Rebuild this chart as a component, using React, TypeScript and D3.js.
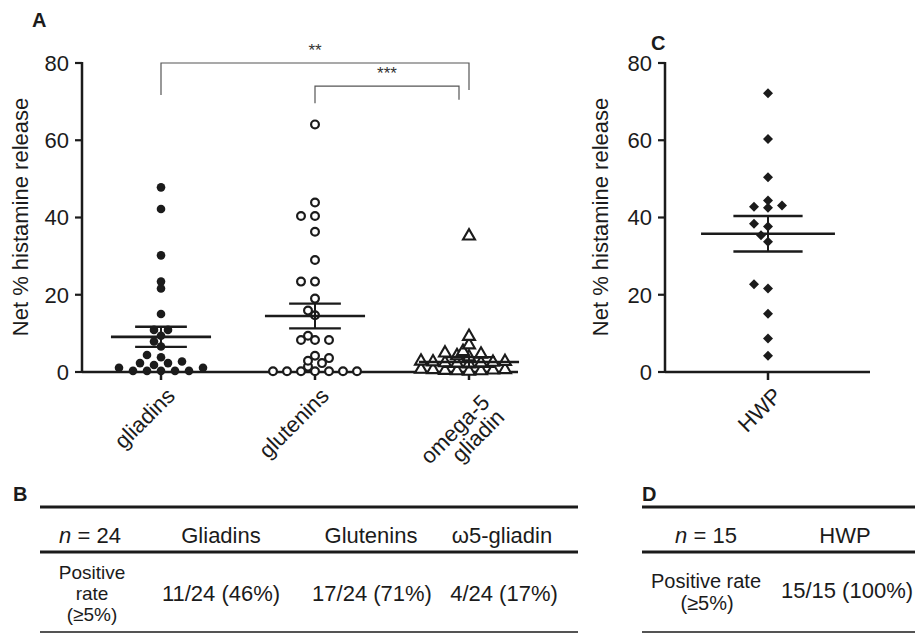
import React from "react";
import * as d3 from "d3";

// values (net % histamine release)
const categories = ["gliadins", "glutenins", "omega-5 gliadin"];
const categoryLines = [["gliadins"], ["glutenins"], ["omega-5", "gliadin"]];

const gliadins = [47.8, 42.2, 30.2, 23.4, 21.6, 15.0, 10.9, 10.9, 9.4, 7.9, 6.6, 4.4, 3.8, 2.7, 2.3, 2.3, 1.8, 1.1, 1.1, 0.3, 0.3, 0.3, 0.3, 0.3];
const glutenins = [64.1, 43.9, 40.4, 40.4, 36.3, 29.0, 23.4, 23.4, 19.0, 15.9, 14.7, 9.4, 8.3, 8.3, 8.3, 4.2, 3.6, 2.9, 2.3, 1.4, 0.2, 0.2, 0.2, 0.2, 0.2, 0.2, 0.2];
const omega5 = [35.2, 9.2, 7.0, 5.3, 4.9, 4.6, 4.2, 3.9, 2.8, 2.7, 2.6, 2.5, 2.4, 2.3, 2.2, 2.1, 0.7, 0.6, 0.6, 0.5, 0.4, 0.3, 0.3, 0.2];
const hwp = [72.2, 60.3, 50.4, 44.4, 43.1, 42.8, 42.5, 38.4, 37.7, 35.4, 33.7, 22.7, 21.6, 15.1, 8.7, 4.2];

const groupMeans = [9.1, 14.5, 2.6];
const groupSem = [2.6, 3.2, 1.25];
const hwpMean = [35.8];
const hwpSem = [4.6];

const yTicks = [0, 20, 40, 60, 80];

const brackets = [
  { from: 0, to: 2, level: 80, leftEnd: 71.7, rightEnd: 73, label: "**" },
  { from: 1, to: 2, level: 74, leftEnd: 69.6, rightEnd: 70.5, label: "***" },
];

const tableBHead = ["Gliadins", "Glutenins", "ω5-gliadin"];
const tableBRow = ["11/24 (46%)", "17/24 (71%)", "4/24 (17%)"];
const tableDHead = ["HWP"];
const tableDRow = ["15/15 (100%)"];

const FONT = "'Liberation Sans', Arial, Helvetica, sans-serif";
const INK = "#1b1b1b";

// simple beeswarm: bottom-up, each point on the half-step lattice closest to the centre
function swarm(values: number[], y: (v: number) => number, step: number, dMin: number) {
  const placed: { v: number; py: number; dx: number }[] = [];
  const sorted = [...values].sort((a, b) => a - b);
  const cand: number[] = [0];
  for (let k = 1; k < 30; k++) cand.push(-k * step / 2, k * step / 2);
  for (const v of sorted) {
    const py = y(v);
    let dx = 0;
    for (const c of cand) {
      const hit = placed.some((p) => {
        const a = (p.dx - c) / step, b = (p.py - py) / dMin;
        return a * a + b * b < 0.6;
      });
      if (!hit) { dx = c; break; }
    }
    placed.push({ v, py, dx });
  }
  return placed;
}

const triangle = d3.symbol(d3.symbolTriangle, 62)();
const square = d3.symbol(d3.symbolSquare, 50)();

export default function App() {
  const y = d3.scaleLinear().domain([0, 80]).range([372, 63]);

  // panel A
  const axA = 82;
  const xA = d3.scalePoint().domain(categories).range([84, 546]).padding(0.5);
  const stepA = xA.step();
  const groups = [gliadins, glutenins, omega5];
  const swarms = groups.map((g, i) => swarm(g, y, i === 2 ? 12 : 14, i === 0 ? 8 : 7));

  // panel C
  const axC = 665;
  const xC = d3.scalePoint().domain(["HWP"]).range([665, 871]).padding(0.5);
  const stepC = 206;
  const swarmC = swarm(hwp, y, 14, 9);

  const meanBar = (cx: number, m: number, s: number, band: number, key: string) => (
    <g key={key} stroke={INK} fill="none">
      <line x1={cx - band * 0.325} x2={cx + band * 0.325} y1={y(m)} y2={y(m)} strokeWidth={2.6} />
      <line x1={cx - band * 0.168} x2={cx + band * 0.168} y1={y(m + s)} y2={y(m + s)} strokeWidth={2.4} />
      <line x1={cx - band * 0.168} x2={cx + band * 0.168} y1={y(m - s)} y2={y(m - s)} strokeWidth={2.4} />
      <line x1={cx} x2={cx} y1={y(m + s)} y2={y(m - s)} strokeWidth={2} />
    </g>
  );

  const yAxis = (ax: number) => (
    <g>
      <line x1={ax} x2={ax} y1={y(80) - 1} y2={y(0)} stroke={INK} strokeWidth={2.5} />
      {yTicks.map((t) => (
        <g key={t}>
          <line x1={ax - 7} x2={ax} y1={y(t)} y2={y(t)} stroke={INK} strokeWidth={2.2} />
          <text x={ax - 13} y={y(t)} dy="0.36em" textAnchor="end" fontSize={22} fill={INK}>{t}</text>
        </g>
      ))}
    </g>
  );

  const yTitle = (cx: number) => (
    <text transform={`translate(${cx},${217}) rotate(-90)`} dy="0.35em" textAnchor="middle" fontSize={22} fill={INK}>
      Net % histamine release
    </text>
  );

  const catLabel = (cx: number, lines: string[], key: string) => (
    <text key={key} transform={`translate(${cx + 4},${386}) rotate(-45)`} textAnchor="end" fontSize={22} fill={INK}>
      {lines.map((l, i) => (
        <tspan key={i} x={0} dy={i === 0 ? (lines.length > 1 ? "1.15em" : "0.72em") : "0.95em"}>{l}</tspan>
      ))}
    </text>
  );

  return (
    <div style={{ position: "absolute", left: 0, top: 0 }}>
      <svg width={915} height={633} fontFamily={FONT} style={{ display: "block", background: "#fff" }}>
        {/* panel letters */}
        <text x={32} y={27} fontSize={20} fontWeight="bold" fill={INK}>A</text>
        <text x={651} y={50} fontSize={20} fontWeight="bold" fill={INK}>C</text>
        <text x={13} y={501} fontSize={20} fontWeight="bold" fill={INK}>B</text>
        <text x={642} y={501} fontSize={20} fontWeight="bold" fill={INK}>D</text>

        {/* ---- panel A ---- */}
        {yTitle(20)}
        {yAxis(axA)}
        <line x1={axA} x2={518} y1={y(0)} y2={y(0)} stroke={INK} strokeWidth={2.5} />
        {categories.map((c) => (
          <line key={c} x1={xA(c)!} x2={xA(c)!} y1={y(0)} y2={y(0) + 8} stroke={INK} strokeWidth={2.5} />
        ))}
        {categories.map((c, i) => catLabel(xA(c)!, categoryLines[i], c))}

        {swarms[0].map((p, i) => (
          <circle key={"g" + i} cx={xA(categories[0])! + p.dx} cy={p.py} r={4.3} fill={INK} />
        ))}
        {swarms[1].map((p, i) => (
          <circle key={"t" + i} cx={xA(categories[1])! + p.dx} cy={p.py} r={3.9} fill="#fff" stroke={INK} strokeWidth={2.2} />
        ))}
        {swarms[2].map((p, i) => (
          <path key={"o" + i} d={triangle!} transform={`translate(${xA(categories[2])! + p.dx},${p.py})`} fill="#fff" stroke={INK} strokeWidth={2.1} />
        ))}
        {categories.map((c, i) => meanBar(xA(c)!, groupMeans[i], groupSem[i], stepA, "m" + c))}

        {brackets.map((b) => {
          const x1 = xA(categories[b.from])!;
          const x2 = xA(categories[b.to])! - (b.from === 1 ? 10 : 0);
          return (
            <g key={b.label} stroke="#555" strokeWidth={1.2} fill="none">
              <path d={`M${x1},${y(b.leftEnd)}V${y(b.level)}H${x2}V${y(b.rightEnd)}`} />
              <text x={(x1 + x2) / 2} y={y(b.level) - 7} textAnchor="middle" fontSize={17} fill="#333" stroke="none">{b.label}</text>
            </g>
          );
        })}

        {/* ---- panel C ---- */}
        {yTitle(600)}
        {yAxis(axC)}
        <line x1={axC} x2={870} y1={y(0)} y2={y(0)} stroke={INK} strokeWidth={2.5} />
        <line x1={xC("HWP")!} x2={xC("HWP")!} y1={y(0)} y2={y(0) + 8} stroke={INK} strokeWidth={2.5} />
        {catLabel(xC("HWP")!, ["HWP"], "hwp")}
        {swarmC.map((p, i) => (
          <path key={"h" + i} d={square!} transform={`translate(${xC("HWP")! + p.dx},${p.py}) rotate(45)`} fill={INK} />
        ))}
        {meanBar(xC("HWP")!, hwpMean[0], hwpSem[0], stepC, "mh")}

        {/* ---- table B ---- */}
        <g fill={INK} fontSize={22} textAnchor="middle">
          <line x1={40} x2={578} y1={507} y2={507} stroke={INK} strokeWidth={3} />
          <line x1={40} x2={578} y1={552} y2={552} stroke={INK} strokeWidth={3} />
          <line x1={40} x2={578} y1={632} y2={632} stroke={INK} strokeWidth={1.5} />
          <text x={90} y={543}><tspan fontStyle="italic">n</tspan> = 24</text>
          {tableBHead.map((h, i) => (
            <text key={h} x={[221, 371, 502][i]} y={543}>{h}</text>
          ))}
          <text x={92} y={579} fontSize={19}>
            <tspan x={92}>Positive</tspan>
            <tspan x={92} dy={21}>rate</tspan>
            <tspan x={92} dy={21}>(≥5%)</tspan>
          </text>
          {tableBRow.map((v, i) => (
            <text key={v} x={[221, 372, 504][i]} y={601}>{v}</text>
          ))}
        </g>

        {/* ---- table D ---- */}
        <g fill={INK} fontSize={22} textAnchor="middle">
          <line x1={642} x2={915} y1={507} y2={507} stroke={INK} strokeWidth={3} />
          <line x1={642} x2={915} y1={552} y2={552} stroke={INK} strokeWidth={3} />
          <line x1={642} x2={915} y1={632} y2={632} stroke={INK} strokeWidth={1.5} />
          <text x={706} y={543}><tspan fontStyle="italic">n</tspan> = 15</text>
          <text x={845} y={543}>{tableDHead[0]}</text>
          <text x={706} y={588} fontSize={20}>
            <tspan x={706}>Positive rate</tspan>
            <tspan x={707} dy={22}>(≥5%)</tspan>
          </text>
          <text x={847} y={598}>{tableDRow[0]}</text>
        </g>
      </svg>
    </div>
  );
}
